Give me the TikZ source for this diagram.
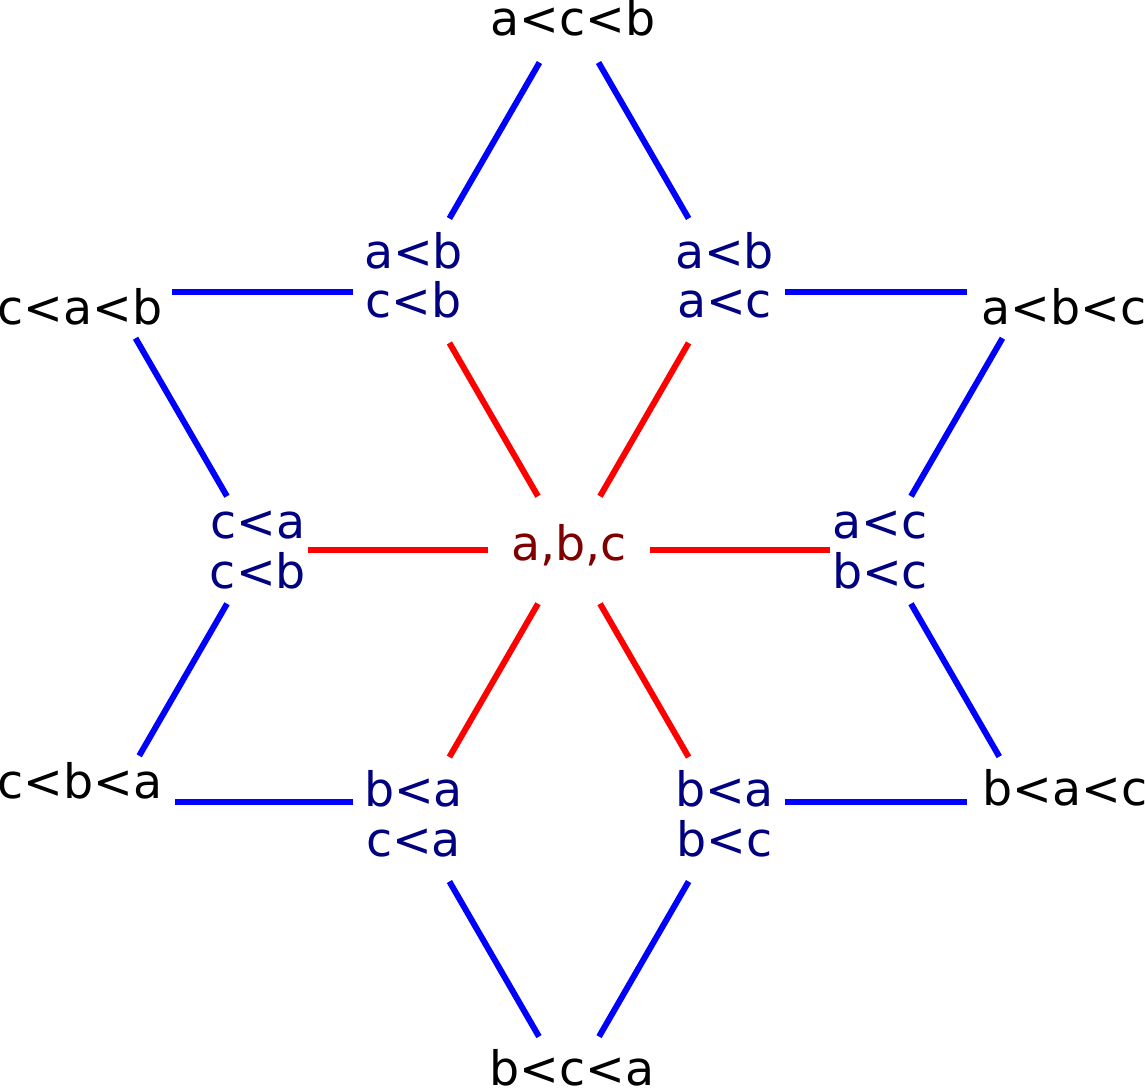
\documentclass[tikz,border=0pt]{standalone}
\usepackage{fontspec}
\setmainfont{DejaVu Sans}
\definecolor{navy}{RGB}{0,0,128}
\definecolor{maroon}{RGB}{128,0,0}
\begin{document}
\begin{tikzpicture}[
    x = 0.01cm, y = -0.01cm,
    lbl/.style = {font=\fontsize{13.5pt}{14.1pt}\selectfont, inner sep=0pt, align=center},
    mid/.style = {lbl, text=navy, minimum width=1.19cm, minimum height=1.23cm,
      text height=0.86cm, text depth=0.12cm},
    side/.style = {lbl, text=navy, minimum width=0.99cm, minimum height=1.06cm},
    hub/.style = {lbl, text=maroon, minimum width=1.6cm, minimum height=1.06cm,
      text height=0.36cm, text depth=0.16cm},
    outer/.style = {lbl, anchor=base},
    red edge/.style = {draw=red, line width=0.06cm},
    blue edge/.style = {draw=blue, line width=0.06cm},
  ]
  \useasboundingbox (0,0) rectangle (1145,1088);

  \node[hub] (abc) at (569,550) {a,b,c};
  \node[mid] (ab-cb) at (413.5,280.7) {a<b\\c<b};
  \node[mid] (ab-ac) at (724.5,280.7) {a<b\\a<c};
  \node[side] (ca-cb) at (258,550) {c<a\\c<b};
  \node[side] (ac-bc) at (880,550) {a<c\\b<c};
  \node[mid] (ba-ca) at (413.5,819.3) {b<a\\c<a};
  \node[mid] (ba-bc) at (724.5,819.3) {b<a\\b<c};

  \coordinate (a-c-b) at (569,11.4);
  \coordinate (b-c-a) at (569,1088.6);
  \coordinate (c-a-b) at (109,292.3);
  \coordinate (a-b-c) at (1029,292.3);
  \coordinate (c-b-a) at (112.7,801.7);
  \coordinate (b-a-c) at (1025.3,801.7);

  \node[outer] (a-c-b-t) at (573,36) {a<c<b};
  \node[outer] (c-a-b-t) at (80,324) {c<a<b};
  \node[outer] (a-b-c-t) at (1064,324) {a<b<c};
  \node[outer] (c-b-a-t) at (80,798) {c<b<a};
  \node[outer] (b-a-c-t) at (1065,805) {b<a<c};
  \node[outer] (b-c-a-t) at (572,1085) {b<c<a};

  \foreach \m in {ab-cb,ab-ac,ca-cb,ac-bc,ba-ca,ba-bc}
    \draw[red edge] (abc) -- (\m);

  \draw[blue edge, shorten >=0.59cm] (ab-cb) -- (a-c-b);
  \draw[blue edge, shorten >=0.59cm] (ab-ac) -- (a-c-b);
  \draw[blue edge, shorten >=0.6cm] (ba-ca) -- (b-c-a);
  \draw[blue edge, shorten >=0.6cm] (ba-bc) -- (b-c-a);
  \draw[blue edge, shorten >=0.53cm] (ca-cb) -- (c-a-b);
  \draw[blue edge, shorten >=0.53cm] (ca-cb) -- (c-b-a);
  \draw[blue edge, shorten >=0.53cm] (ac-bc) -- (a-b-c);
  \draw[blue edge, shorten >=0.52cm] (ac-bc) -- (b-a-c);
  \draw[blue edge, shorten >=0.63cm] (ab-cb.west |- c-a-b) -- (c-a-b);
  \draw[blue edge, shorten >=0.62cm] (ab-ac.east |- a-b-c) -- (a-b-c);
  \draw[blue edge, shorten >=0.62cm] (ba-ca.west |- c-b-a) -- (c-b-a);
  \draw[blue edge, shorten >=0.58cm] (ba-bc.east |- b-a-c) -- (b-a-c);
\end{tikzpicture}
\end{document}
